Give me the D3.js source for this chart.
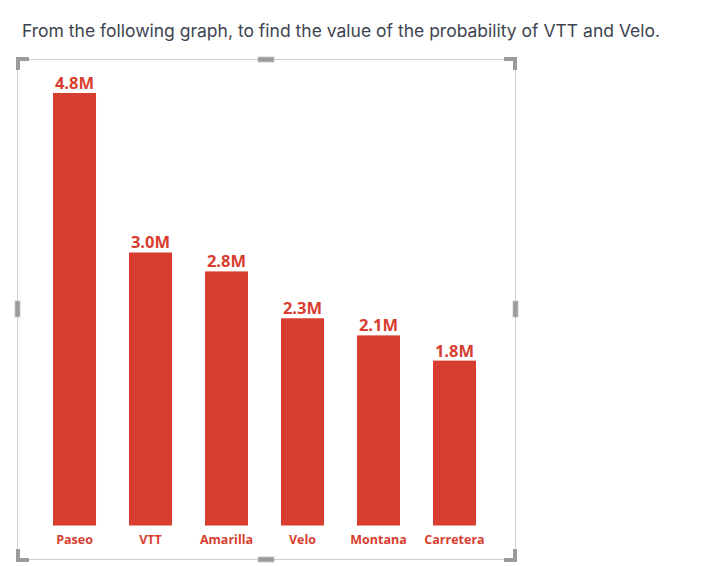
<!DOCTYPE html>
<html>
<head>
<meta charset="utf-8">
<script src="https://cdn.jsdelivr.net/npm/d3@7"></script>
<style>
  html, body { margin: 0; padding: 0; background: #fff; }
  svg { display: block; }
</style>
</head>
<body>
<svg id="chart" width="721" height="566"></svg>
<script>
const titleText = "From the following graph, to find the value of the probability of VTT and Velo.";
const categories = ["Paseo", "VTT", "Amarilla", "Velo", "Montana", "Carretera"];
const values = [4.8, 3.03, 2.82, 2.30, 2.11, 1.83]; // millions

const RED = "#d73e2f";
const svg = d3.select("#chart");

// title
svg.append("text")
  .attr("x", 22).attr("y", 37)
  .attr("font-family", "Inter, 'Noto Sans', sans-serif")
  .attr("font-size", 17.5)
  .attr("fill", "#3d4450")
  .text(titleText);

// frame
const frame = { x: 17.5, y: 59.5, w: 498, h: 500 };
svg.append("rect")
  .attr("x", frame.x).attr("y", frame.y)
  .attr("width", frame.w).attr("height", frame.h)
  .attr("fill", "#fff").attr("stroke", "#cfcfcf").attr("stroke-width", 1);

// corner brackets
const G = "#9b9b9b";
const arm = 13, th = 4;
const corners = [
  { x: frame.x - 1.5, y: frame.y - 2.5, sx: 1, sy: 1 },
  { x: frame.x + frame.w + 1.5, y: frame.y - 2.5, sx: -1, sy: 1 },
  { x: frame.x - 1.5, y: frame.y + frame.h + 2.5, sx: 1, sy: -1 },
  { x: frame.x + frame.w + 1.5, y: frame.y + frame.h + 2.5, sx: -1, sy: -1 }
];
corners.forEach(c => {
  const p = d3.path();
  p.moveTo(c.x, c.y);
  p.lineTo(c.x + c.sx * arm, c.y);
  p.lineTo(c.x + c.sx * arm, c.y + c.sy * th);
  p.lineTo(c.x + c.sx * th, c.y + c.sy * th);
  p.lineTo(c.x + c.sx * th, c.y + c.sy * arm);
  p.lineTo(c.x, c.y + c.sy * arm);
  p.closePath();
  svg.append("path").attr("d", p.toString()).attr("fill", G);
});
// mid handles
[
  { x: 258, y: frame.y - 2.5, w: 16, h: 5 },
  { x: 258, y: frame.y + frame.h - 2.5, w: 16, h: 5 },
  { x: frame.x - 2.5, y: 301, w: 5, h: 16 },
  { x: frame.x + frame.w - 2.5, y: 301, w: 5, h: 16 }
].forEach(h => {
  svg.append("rect").attr("x", h.x).attr("y", h.y)
    .attr("width", h.w).attr("height", h.h)
    .attr("fill", G).attr("stroke", "#c4c4c4").attr("stroke-width", 0.8);
});

// scales
const x = d3.scaleBand().domain(categories).range([53, 476]).paddingInner(0.434).paddingOuter(0);
const baseline = 525.5;
const y = d3.scaleLinear().domain([0, d3.max(values)]).range([baseline, 93]);
const data = categories.map((c, i) => ({ c, v: values[i] }));

const g = svg.append("g");
g.selectAll("rect.bar").data(data).enter().append("rect")
  .attr("class", "bar")
  .attr("x", d => x(d.c)).attr("width", x.bandwidth())
  .attr("y", d => y(d.v)).attr("height", d => baseline - y(d.v))
  .attr("fill", RED);

const fmt = d3.format(".1f");
g.selectAll("text.val").data(data).enter().append("text")
  .attr("class", "val")
  .attr("x", d => x(d.c) + x.bandwidth() / 2)
  .attr("y", d => y(d.v) - 4)
  .attr("text-anchor", "middle")
  .attr("font-family", "'Open Sans', 'Noto Sans', sans-serif")
  .attr("font-weight", 700)
  .attr("font-size", 16.5)
  .attr("fill", RED)
  .text(d => fmt(d.v) + "M");

// category axis
const xAxis = d3.axisBottom(x).tickSize(0).tickPadding(0);
const ax = svg.append("g").attr("transform", `translate(0,${baseline})`).call(xAxis);
ax.select(".domain").remove();
ax.selectAll("text")
  .attr("y", 18.5).attr("dy", null)
  .attr("font-family", "'Open Sans', 'Noto Sans', sans-serif")
  .attr("font-weight", 700)
  .attr("font-size", 12.5)
  .attr("fill", RED);
</script>
</body>
</html>
